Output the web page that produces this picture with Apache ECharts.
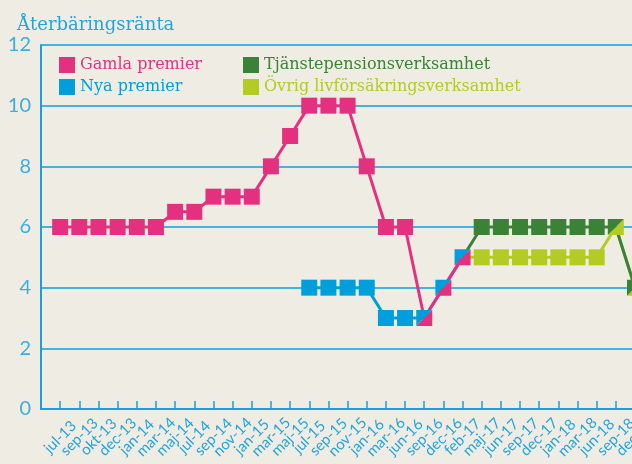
<!DOCTYPE html>
<html lang="sv">
<head>
    <meta charset="UTF-8">
    <title>Återbäringsränta</title>
    <script src="https://cdn.jsdelivr.net/npm/echarts@6/dist/echarts.min.js"></script>
    <style>
        html, body { margin: 0; padding: 0; background: #efede3; }
    </style>
</head>
<body>
    <div id="main" style="width: 632px;height:464px;"></div>
    <script type="text/javascript">
        // data
        var categories = ['jul-13', 'sep-13', 'okt-13', 'dec-13', 'jan-14', 'mar-14', 'maj-14', 'jul-14',
            'sep-14', 'nov-14', 'jan-15', 'mar-15', 'maj-15', 'jul-15', 'sep-15', 'nov-15', 'jan-16',
            'mar-16', 'jun-16', 'sep-16', 'dec-16', 'feb-17', 'maj-17', 'jun-17', 'sep-17', 'dec-17',
            'jan-18', 'mar-18', 'jun-18', 'sep-18', 'dec-18'];
        var gamla = [6, 6, 6, 6, 6, 6, 6.5, 6.5, 7, 7, 7, 8, 9, 10, 10, 10, 8, 6, 6, 3, 4, 5,
            null, null, null, null, null, null, null, null, null];
        var nya = [null, null, null, null, null, null, null, null, null, null, null, null, null,
            4, 4, 4, 4, 3, 3, 3, 4, 5, null, null, null, null, null, null, null, null, null];
        var tjanste = [null, null, null, null, null, null, null, null, null, null, null, null, null,
            null, null, null, null, null, null, null, null, 5, 6, 6, 6, 6, 6, 6, 6, 6, 4];
        var ovrig = [null, null, null, null, null, null, null, null, null, null, null, null, null,
            null, null, null, null, null, null, null, null, 5, 5, 5, 5, 5, 5, 5, 5, 6, 4];
        var yTicks = [0, 2, 4, 6, 8, 10, 12];

        var PINK = '#e4317f', BLUE = '#009fdb', GREEN = '#3a8336', LIME = '#b4cb23';
        var AXIS = '#1a9fd8', TXT = '#22a5dd';
        var UPPER_LEFT = 'path://M0,0L1,0L0,1Z';
        var LOWER_RIGHT = 'path://M1,0L1,1L0,1Z';

        // overlapping points are drawn as two halves, like the original
        function items(vals, partner, half, hideIf) {
            var out = vals.map(function (v, i) {
                if (v == null) return null;
                if (hideIf && hideIf.some(function (o) { return o[i] === v; })) {
                    return { value: v, symbol: 'none' };
                }
                if (partner[i] === v) return { value: v, symbol: half };
                return v;
            });
            return [null].concat(out); // leading empty slot = gap before jul-13
        }

        function line(name, color, data) {
            return {
                name: name,
                type: 'line',
                data: data,
                symbol: 'rect',
                symbolSize: 16,
                showAllSymbol: true,
                connectNulls: false,
                itemStyle: { color: color },
                lineStyle: { color: color, width: 3 },
                emphasis: { disabled: true },
                animation: false
            };
        }

        var myChart = echarts.init(document.getElementById('main'));

        var legendFont = { fontFamily: 'DejaVu Serif', fontSize: 16 };

        var option = {
            backgroundColor: '#efede3',
            title: {
                text: 'Återbäringsränta',
                left: 12,
                top: 11,
                textStyle: { fontFamily: 'DejaVu Serif', fontSize: 18, fontWeight: 'normal', color: TXT }
            },
            legend: [{
                left: 54, top: 52, orient: 'vertical', itemGap: 6,
                itemWidth: 16, itemHeight: 16, icon: 'rect',
                textStyle: legendFont,
                data: [
                    { name: 'Gamla premier', textStyle: { color: PINK } },
                    { name: 'Nya premier', textStyle: { color: BLUE } }
                ]
            }, {
                left: 238, top: 52, orient: 'vertical', itemGap: 6,
                itemWidth: 16, itemHeight: 16, icon: 'rect',
                textStyle: legendFont,
                data: [
                    { name: 'Tjänstepensionsverksamhet', textStyle: { color: GREEN } },
                    { name: 'Övrig livförsäkringsverksamhet', textStyle: { color: LIME } }
                ]
            }],
            grid: { left: 41, top: 45, bottom: 55, right: -3, outerBoundsMode: 'none', containLabel: false },
            xAxis: {
                type: 'category',
                boundaryGap: false,
                data: [''].concat(categories),
                axisLine: { lineStyle: { color: AXIS, width: 2 } },
                axisTick: {
                    inside: true, length: 8,
                    interval: function (idx) { return idx > 0; },
                    lineStyle: { color: AXIS, width: 1.5 }
                },
                axisLabel: {
                    interval: 0, rotate: 45, margin: 28, hideOverlap: false,
                    align: 'center', verticalAlign: 'middle',
                    color: TXT, fontFamily: 'Lato', fontSize: 15
                },
                splitLine: { show: false }
            },
            yAxis: {
                type: 'value',
                min: yTicks[0],
                max: yTicks[yTicks.length - 1],
                interval: 2,
                axisLine: { show: true, lineStyle: { color: AXIS, width: 2 } },
                axisTick: { show: false },
                axisLabel: { color: '#3aaee0', fontFamily: 'Lato', fontSize: 20, margin: 10 },
                splitLine: { lineStyle: { color: '#45b2e0', width: 2 } }
            },
            series: [
                line('Nya premier', BLUE, items(nya, gamla, UPPER_LEFT)),
                line('Gamla premier', PINK, items(gamla, nya, LOWER_RIGHT)),
                line('Övrig livförsäkringsverksamhet', LIME, items(ovrig, tjanste, LOWER_RIGHT, [gamla, nya])),
                line('Tjänstepensionsverksamhet', GREEN, items(tjanste, ovrig, UPPER_LEFT, [gamla, nya]))
            ]
        };

        myChart.setOption(option);
    </script>
</body>
</html>
